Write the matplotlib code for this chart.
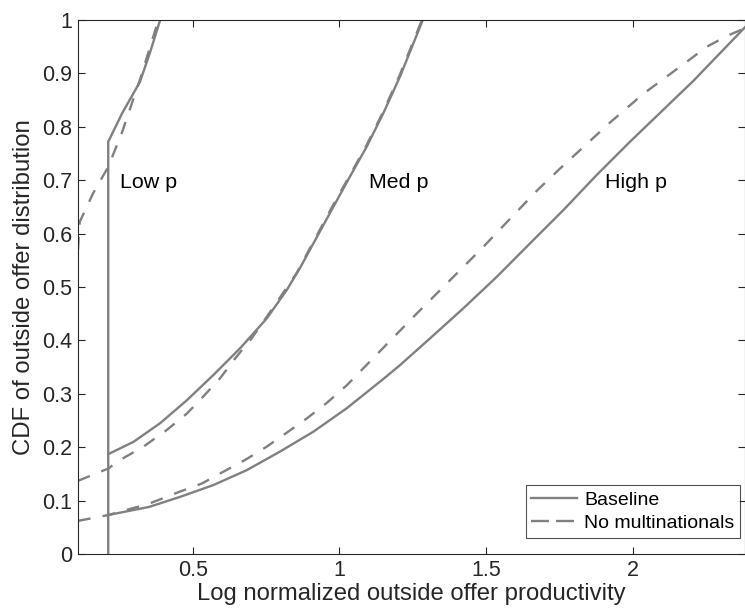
import matplotlib
matplotlib.use("Agg")
import matplotlib.pyplot as plt

plt.rcParams['font.family'] = ['Liberation Sans', 'DejaVu Sans']

# Low p
low_base_x = [0.212, 0.212, 0.26, 0.32, 0.355, 0.389]
low_base_y = [0.0, 0.772, 0.826, 0.884, 0.94, 1.0]
low_nomn_x = [0.109, 0.112, 0.115, 0.16, 0.212, 0.258, 0.32, 0.383]
low_nomn_y = [0.57, 0.60, 0.622, 0.675, 0.725, 0.788, 0.888, 1.0]

# Med p
med_base_x = [0.212, 0.298, 0.389, 0.480, 0.570, 0.661, 0.752, 0.820, 0.866,
              0.979, 1.036, 1.093, 1.150, 1.207, 1.284]
med_base_y = [0.187, 0.210, 0.245, 0.288, 0.335, 0.385, 0.441, 0.494, 0.536,
              0.650, 0.707, 0.763, 0.826, 0.895, 1.0]
med_nomn_x = [0.109, 0.212, 0.252, 0.332, 0.411, 0.480, 0.536, 0.593, 0.644,
              0.701, 0.752, 0.803, 0.854, 0.975, 1.033, 1.09, 1.147, 1.204, 1.281]
med_nomn_y = [0.137, 0.160, 0.176, 0.201, 0.232, 0.263, 0.295, 0.329, 0.366,
              0.404, 0.444, 0.485, 0.526, 0.650, 0.707, 0.763, 0.826, 0.895, 1.0]

# High p
high_base_x = [0.212, 0.350, 0.457, 0.570, 0.684, 0.798, 0.911, 1.025, 1.150,
               1.207, 1.309, 1.422, 1.536, 1.650, 1.763, 1.877, 1.990, 2.206, 2.383]
high_base_y = [0.073, 0.088, 0.107, 0.129, 0.157, 0.192, 0.229, 0.273, 0.328,
               0.354, 0.404, 0.460, 0.519, 0.582, 0.644, 0.710, 0.772, 0.886, 0.987]
high_nomn_x = [0.109, 0.212, 0.350, 0.457, 0.531, 0.604, 0.678, 0.752, 0.820,
               0.889, 0.957, 1.025, 1.252, 1.490, 1.672, 1.752, 1.922, 2.036,
               2.184, 2.252, 2.320, 2.383]
high_nomn_y = [0.062, 0.073, 0.094, 0.117, 0.132, 0.154, 0.176, 0.201, 0.227,
               0.254, 0.283, 0.316, 0.444, 0.575, 0.680, 0.722, 0.808, 0.862,
               0.922, 0.950, 0.970, 0.985]

labels = ["Low p", "Med p", "High p"]
label_x = [0.252, 1.102, 1.905]
label_y = [0.695, 0.695, 0.695]

x_ticks = [0.5, 1, 1.5, 2]
x_ticklabels = ["0.5", "1", "1.5", "2"]
y_ticks = [0, 0.1, 0.2, 0.3, 0.4, 0.5, 0.6, 0.7, 0.8, 0.9, 1]
y_ticklabels = ["0", "0.1", "0.2", "0.3", "0.4", "0.5", "0.6", "0.7", "0.8", "0.9", "1"]

line_col = '#808080'
ax_col = '#262626'
lw = 1.7
dash = (5.4, 5.2)

fig = plt.figure(figsize=(7.45, 6.16), dpi=100)
ax = fig.add_axes([78/745, 62/616, 667/745, 534/616])

b, = ax.plot(low_base_x, low_base_y, color=line_col, lw=lw, label='Baseline')
n, = ax.plot(low_nomn_x, low_nomn_y, color=line_col, lw=lw, dashes=dash, label='No multinationals')
ax.plot(med_base_x, med_base_y, color=line_col, lw=lw)
ax.plot(med_nomn_x, med_nomn_y, color=line_col, lw=lw, dashes=dash)
ax.plot(high_base_x, high_base_y, color=line_col, lw=lw)
ax.plot(high_nomn_x, high_nomn_y, color=line_col, lw=lw, dashes=dash)

for t, x, y in zip(labels, label_x, label_y):
    ax.text(x, y, t, fontsize=15.4, ha='left', va='center', color='black')

ax.set_xlim(0.109, 2.382)
ax.set_ylim(0, 1)
ax.set_xticks(x_ticks)
ax.set_xticklabels(x_ticklabels)
ax.set_yticks(y_ticks)
ax.set_yticklabels(y_ticklabels)
ax.tick_params(direction='in', length=5, width=0.8, colors=ax_col, labelsize=15.5,
               top=True, right=True, labelcolor=ax_col, pad=4)
for s in ax.spines.values():
    s.set_color(ax_col)
    s.set_linewidth(0.8)

ax.set_xlabel('Log normalized outside offer productivity', fontsize=17.2, color=ax_col, labelpad=2)
ax.set_ylabel('CDF of outside offer distribution', fontsize=17.2, color=ax_col, labelpad=5)

leg = ax.legend(handles=[b, n], loc='lower right', bbox_to_anchor=(0.9925, 0.030),
                borderaxespad=0, fontsize=14, frameon=True, fancybox=False,
                handlelength=2.35, handletextpad=0.35, borderpad=0.3, labelspacing=0.3)
leg.get_frame().set_edgecolor(ax_col)
leg.get_frame().set_linewidth(0.8)
leg.get_lines()[1].set_dashes((7.6, 3.0))

fig.savefig('out.png', dpi=100)
